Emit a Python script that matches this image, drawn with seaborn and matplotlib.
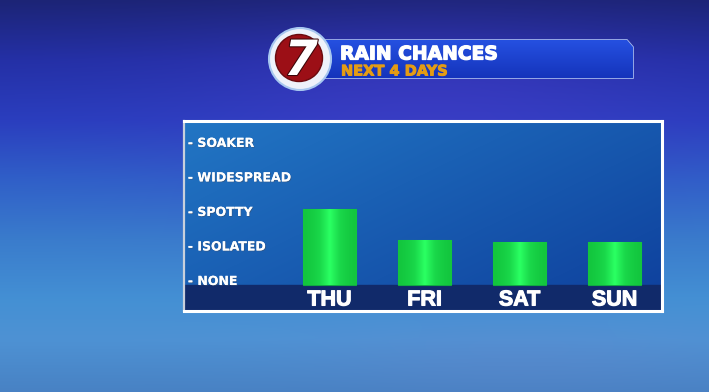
import numpy as np
import pandas as pd
import matplotlib
matplotlib.use("Agg")
import matplotlib.pyplot as plt
import seaborn as sns
from matplotlib.colors import to_rgb, LinearSegmentedColormap
from matplotlib.patches import Polygon, Circle
import matplotlib.patheffects as pe

# ---------------- data ----------------
days = ["THU", "FRI", "SAT", "SUN"]
rain_level = [2.2, 1.3, 1.25, 1.25]
level_labels = ["NONE", "ISOLATED", "SPOTTY", "WIDESPREAD", "SOAKER"]
level_values = [0, 1, 2, 3, 4]
title_text = "RAIN CHANCES"
subtitle_text = "NEXT 4 DAYS"
logo_text = "7"

sns.set_theme(style="white")
plt.rcParams["font.family"] = ["DejaVu Sans"]

W, H = 709, 392
fig = plt.figure(figsize=(W / 100, H / 100), dpi=100)

# ---------------- background ----------------
bg = fig.add_axes([0, 0, 1, 1])
bg.axis("off")
ys = np.linspace(0, H, 200)
xs = np.linspace(0, W, 300)
stop_y = [0, 60, 120, 180, 240, 300, 340, 392]
stop_c = np.array([to_rgb(c) for c in ["#1c2476", "#2430a6", "#2a3ebe", "#3060c8",
                                       "#3a7ccc", "#4490d4", "#4e92d4", "#4882c4"]])
img = np.zeros((len(ys), len(xs), 3))
for c in range(3):
    col = np.interp(ys, stop_y, stop_c[:, c])
    img[:, :, c] = col[:, None]
gx, gy = np.meshgrid(xs, ys)
w = 0.45 * np.exp(-(((gx - 430) / 230) ** 2 + ((gy - 110) / 90) ** 2))
purple = np.array(to_rgb("#4a3ccc"))
img = img * (1 - w[..., None]) + purple * w[..., None]
w2 = 0.18 * np.exp(-(((gx - 520) / 200) ** 2 + ((gy - 360) / 40) ** 2))
mauve = np.array(to_rgb("#7a80c8"))
img = img * (1 - w2[..., None]) + mauve * w2[..., None]
bg.imshow(img, extent=[0, W, H, 0], aspect="auto", interpolation="bilinear", zorder=0)
bg.set_xlim(0, W)
bg.set_ylim(H, 0)

# banner
banner = Polygon([(323, 40), (627, 40), (633, 47), (633, 78), (323, 78)], closed=True,
                 facecolor="#1b40cf", edgecolor="#a8bcf0", linewidth=1.2, zorder=2)
bg.add_patch(banner)
bgrad = np.linspace(0, 1, 50)[:, None] * np.ones((1, 2))
bcmap = LinearSegmentedColormap.from_list("b", ["#2550e0", "#1534bc"])
bim = bg.imshow(bgrad, extent=[323, 633, 78, 40], cmap=bcmap, aspect="auto", zorder=2.1)
bim.set_clip_path(banner)
bg.set_xlim(0, W)
bg.set_ylim(H, 0)

# logo
bg.add_patch(Circle((300, 59), 31, facecolor="#eef2fa", edgecolor="#a8c8f0", linewidth=1.5, zorder=3))
bg.add_patch(Circle((299, 58), 23.5, facecolor="#9c0f16", edgecolor="#6a0a0e", linewidth=1, zorder=4))
bg.text(301, 61, logo_text, color="white", fontsize=35, fontweight="heavy", fontstyle="italic",
        ha="center", va="center", zorder=5,
        path_effects=[pe.withStroke(linewidth=1.5, foreground="#3a0508")])

bg.text(340, 54, title_text, color="white", fontsize=13.5, fontweight="bold", va="center", ha="left", zorder=5,
        path_effects=[pe.withStroke(linewidth=0.9, foreground="white")])
bg.text(341, 71, subtitle_text, color="#e49c14", fontsize=10.5, fontweight="bold", va="center", ha="left", zorder=5,
        path_effects=[pe.withStroke(linewidth=0.7, foreground="#e49c14")])

# ---------------- panel / bar chart ----------------
ax = fig.add_axes([184 / W, (H - 311) / H, 478 / W, 190 / H])
xlim = (-1.53, 3.5)
ylim = (-0.754, 4.75)

pxs = np.linspace(0, 1, 120)
pys = np.linspace(0, 1, 80)
px, py = np.meshgrid(pxs, pys)
t = np.clip(0.55 * px + 0.45 * py, 0, 1)
c0 = np.array(to_rgb("#2276c4"))
c1 = np.array(to_rgb("#0e3f9c"))
pimg = c0 * (1 - t[..., None]) + c1 * t[..., None]
ax.imshow(pimg, extent=[xlim[0], xlim[1], ylim[0], ylim[1]], origin="upper",
          aspect="auto", interpolation="bilinear", zorder=0)

df = pd.DataFrame({"day": days, "level": rain_level})
sns.barplot(data=df, x="day", y="level", ax=ax, color="#18d848", width=0.56,
            saturation=1, edgecolor="#12a844", linewidth=0.8, zorder=3)

gcmap = LinearSegmentedColormap.from_list("g", ["#13c63e", "#1ad84a", "#2aff62"])
for patch in list(ax.patches):
    x0 = patch.get_x()
    wd = patch.get_width()
    ht = patch.get_height()
    grad = (1 - np.abs(np.linspace(-1, 1, 60)))[None, :] ** 1.5
    im = ax.imshow(grad, extent=[x0, x0 + wd, 0, ht], cmap=gcmap, aspect="auto",
                   interpolation="bilinear", zorder=3.5)
    im.set_clip_path(patch)

ax.axhspan(ylim[0], 0, color="#112a6a", zorder=2)

for lab, val in zip(level_labels, level_values):
    ax.text(0.008, val, "- " + lab, transform=ax.get_yaxis_transform(), ha="left", va="baseline",
            color="white", fontsize=9, fontweight="bold", zorder=5,
            path_effects=[pe.withSimplePatchShadow(offset=(0.6, -0.6), shadow_rgbFace="#40506a", alpha=0.6),
                          pe.Normal()])

for i, d in enumerate(days):
    ax.text(i, -0.594, d, ha="center", va="baseline", color="white", fontsize=15.5,
            fontweight="bold", family=["Liberation Sans", "DejaVu Sans"], zorder=5,
            path_effects=[pe.withStroke(linewidth=0.8, foreground="white")])

ax.set_xlim(*xlim)
ax.set_ylim(*ylim)
ax.set_xticks([])
ax.set_yticks([])
ax.set_xlabel("")
ax.set_ylabel("")
ax.grid(False)
for s in ["top", "right", "bottom"]:
    ax.spines[s].set_color("white")
    ax.spines[s].set_linewidth(2.2)
    ax.spines[s].set_visible(True)
ax.spines["left"].set_color("#c8d0dc")
ax.spines["left"].set_linewidth(1.6)
ax.spines["left"].set_visible(True)

fig.savefig("out.png", dpi=100)
